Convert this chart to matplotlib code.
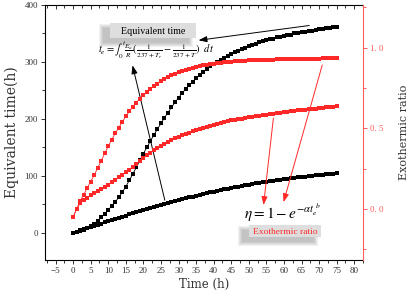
import numpy as np
import matplotlib.pyplot as plt
from matplotlib.patches import Rectangle
from matplotlib.ticker import MultipleLocator, FuncFormatter

# data (one point per hour)
hours = np.arange(0, 76)
te_fast = [0, 1, 3, 5, 8, 12, 16, 21, 27, 33, 40, 47, 54, 62, 71, 81, 92, 103, 115, 127,
           139, 150, 161, 172, 182, 192, 202, 211, 220, 229, 237, 245, 252, 259, 265, 271,
           277, 282, 287, 292, 296, 300, 304, 307, 311, 314, 317, 320, 323, 325, 328, 330,
           332, 335, 336, 338, 340, 341, 343, 344, 346, 347, 348, 350, 351, 352, 353, 354,
           355, 356, 357, 358, 359, 360, 361, 362]
te_slow = [0, 2, 4, 6, 8, 10, 12, 14, 16, 18, 20, 22, 24, 26, 28, 30, 32, 34, 36, 38,
           40, 42, 44, 45.5, 47, 49, 51, 52.5, 54, 56, 57.5, 59, 60.5, 62, 63.5, 65, 66.5,
           68, 69.5, 71, 72, 73.5, 75, 76, 77.5, 79, 80, 81, 82.5, 83.5, 84.5, 85.5, 86.5,
           87.5, 88.5, 89.5, 90.5, 91.5, 92, 93, 94, 94.5, 95.5, 96, 97, 97.5, 98.5, 99,
           100, 100.5, 101, 102, 102.5, 103, 103.5, 104]
ratio_fast = [-0.05, 0.0, 0.05, 0.09, 0.13, 0.17, 0.21, 0.255, 0.30, 0.345, 0.39, 0.43,
              0.47, 0.505, 0.54, 0.575, 0.605, 0.635, 0.66, 0.685, 0.705, 0.725, 0.745,
              0.762, 0.778, 0.792, 0.806, 0.818, 0.829, 0.839, 0.848, 0.856, 0.863, 0.870,
              0.876, 0.881, 0.886, 0.890, 0.894, 0.898, 0.901, 0.904, 0.907, 0.909, 0.911,
              0.913, 0.915, 0.917, 0.918, 0.920, 0.921, 0.922, 0.923, 0.924, 0.925, 0.926,
              0.927, 0.927, 0.928, 0.929, 0.929, 0.930, 0.930, 0.931, 0.931, 0.932, 0.932,
              0.932, 0.933, 0.933, 0.933, 0.934, 0.934, 0.934, 0.935, 0.935]
ratio_slow = [-0.05, 0.0, 0.035, 0.055, 0.07, 0.085, 0.098, 0.112, 0.125, 0.138, 0.152,
              0.167, 0.182, 0.197, 0.212, 0.228, 0.245, 0.262, 0.28, 0.297, 0.315, 0.332,
              0.348, 0.363, 0.378, 0.392, 0.405, 0.417, 0.428, 0.438, 0.448, 0.457, 0.466,
              0.474, 0.482, 0.49, 0.497, 0.504, 0.511, 0.517, 0.523, 0.529, 0.534, 0.539,
              0.544, 0.549, 0.553, 0.557, 0.561, 0.565, 0.569, 0.572, 0.576, 0.579, 0.582,
              0.585, 0.588, 0.591, 0.594, 0.597, 0.600, 0.603, 0.605, 0.608, 0.611, 0.613,
              0.616, 0.618, 0.621, 0.623, 0.626, 0.628, 0.63, 0.633, 0.635, 0.637]

red = '#ff2828'
axred = '#ff5c5c'
W, H = 408, 299

plt.rcParams['mathtext.fontset'] = 'stix'
fig = plt.figure(figsize=(W / 100, H / 100), dpi=100)
ax = fig.add_axes([45 / W, 1 - 260 / H, (363 - 45) / W, (260 - 5) / H])
ax2 = ax.twinx()

# equivalent time (left axis)
for ys in (te_fast, te_slow):
    ax.plot(hours, ys, '-', color='black', lw=0.6, marker='s', ms=2.3, mew=0, zorder=3)
# exothermic ratio (right axis)
for ys in (ratio_fast, ratio_slow):
    ax2.plot(hours, ys, '-', color=red, lw=0.6, marker='s', ms=2.3, mew=0, zorder=3)

ax.set_xlim(-8, 82.5)
ax.set_ylim(-48, 400)
ax2.set_ylim(-0.316, 1.265)

ax.xaxis.set_major_locator(MultipleLocator(5))
ax.xaxis.set_minor_locator(MultipleLocator(2.5))
ax.yaxis.set_major_locator(MultipleLocator(100))
ax.yaxis.set_minor_locator(MultipleLocator(50))
ax2.yaxis.set_major_locator(MultipleLocator(0.5))
ax2.yaxis.set_minor_locator(MultipleLocator(0.25))
ax2.yaxis.set_major_formatter(FuncFormatter(lambda v, p: ('%.1f' % v).replace('.', '. ')))

ax.tick_params(axis='x', which='both', direction='out', top=True, labelsize=6.5,
               colors='#333333', length=3, width=0.7, pad=2)
ax.tick_params(axis='x', which='minor', length=2)
ax.tick_params(axis='y', which='both', direction='out', labelsize=6.5, colors='#333333',
               length=3, width=0.7, pad=2)
ax.tick_params(axis='y', which='minor', length=2)
ax2.tick_params(axis='y', which='both', direction='out', labelsize=6.5, colors=axred,
                length=3, width=0.7, pad=2)
ax2.tick_params(axis='y', which='minor', length=2)
# top ticks point inwards
for t in ax.xaxis.get_major_ticks() + ax.xaxis.get_minor_ticks():
    t.tick2line.set_marker(3)
for lab in ax.get_xticklabels() + ax.get_yticklabels() + ax2.get_yticklabels():
    lab.set_fontfamily('Liberation Serif')

for sp in ('left', 'top', 'bottom'):
    ax.spines[sp].set_linewidth(0.8)
ax2.spines['right'].set_color(axred)
ax2.spines['right'].set_linewidth(0.8)
ax.spines['right'].set_visible(False)
for sp in ('left', 'top', 'bottom'):
    ax2.spines[sp].set_visible(False)

lab_font = 'DejaVu Serif'
ax.set_xlabel('Time (h)', fontsize=8.5, family=lab_font, labelpad=2, color='#333333')
ax.set_ylabel('Equivalent time(h)', fontsize=10, family=lab_font, labelpad=4,
              color='#333333')
ax2.set_ylabel('Exothermic ratio', fontsize=8, family=lab_font, labelpad=11,
               color='#333333')


def px(x, y):
    return x / W, 1 - y / H


def shadow_box(x0, y0, x1, y1):
    # soft shadow down-left, then the light grey box
    for g in (4, 3, 2, 1, 0):
        bx, by = px(x0 - 7 - g, y1 + 5 + g)
        fig.patches.append(Rectangle((bx, by), (x1 - x0 + 2 * g) / W, (y1 - y0 + 2 * g) / H,
                                     transform=fig.transFigure, color='#666666', alpha=0.09,
                                     lw=0, zorder=4))
    bx, by = px(x0, y1)
    fig.patches.append(Rectangle((bx, by), (x1 - x0) / W, (y1 - y0) / H,
                                 transform=fig.transFigure, color='#dedede', lw=0, zorder=5))


shadow_box(110, 23, 196, 38)
fig.text(*px(153, 31), 'Equivalent time', ha='center', va='center', fontsize=7.2,
         family='Liberation Serif', zorder=6)
fig.text(*px(156, 50),
         r'$t_e=\int_0^t\frac{E_a}{R}(\frac{1}{237+T_r}-\frac{1}{237+T})\ \ dt$',
         ha='center', va='center', fontsize=7.5, zorder=6)

shadow_box(249, 225, 321, 237)
fig.text(*px(285, 231.5), 'Exothermic ratio', ha='center', va='center', fontsize=6.8,
         family='Liberation Serif', color=red, zorder=6)
fig.text(*px(282, 213), r'$\eta=1-e^{-\alpha t_e^{\ b}}$', ha='center', va='center',
         fontsize=11, zorder=6)

arrow_k = dict(arrowstyle='-|>,head_length=0.5,head_width=0.18', color='black', lw=0.7,
               shrinkA=0, shrinkB=0)
ax.annotate('', xy=(35.7, 338), xytext=(67.2, 364), arrowprops=arrow_k, zorder=6)
ax.annotate('', xy=(16.9, 294), xytext=(26.1, 57), arrowprops=arrow_k, zorder=6)
arrow_r = dict(arrow_k, color=red)
ax2.annotate('', xy=(54.2, 0.025), xytext=(57.0, 0.564), arrowprops=arrow_r, zorder=6)
ax2.annotate('', xy=(59.9, 0.043), xytext=(70.9, 0.893), arrowprops=arrow_r, zorder=6)

fig.savefig('out.png', dpi=100)
